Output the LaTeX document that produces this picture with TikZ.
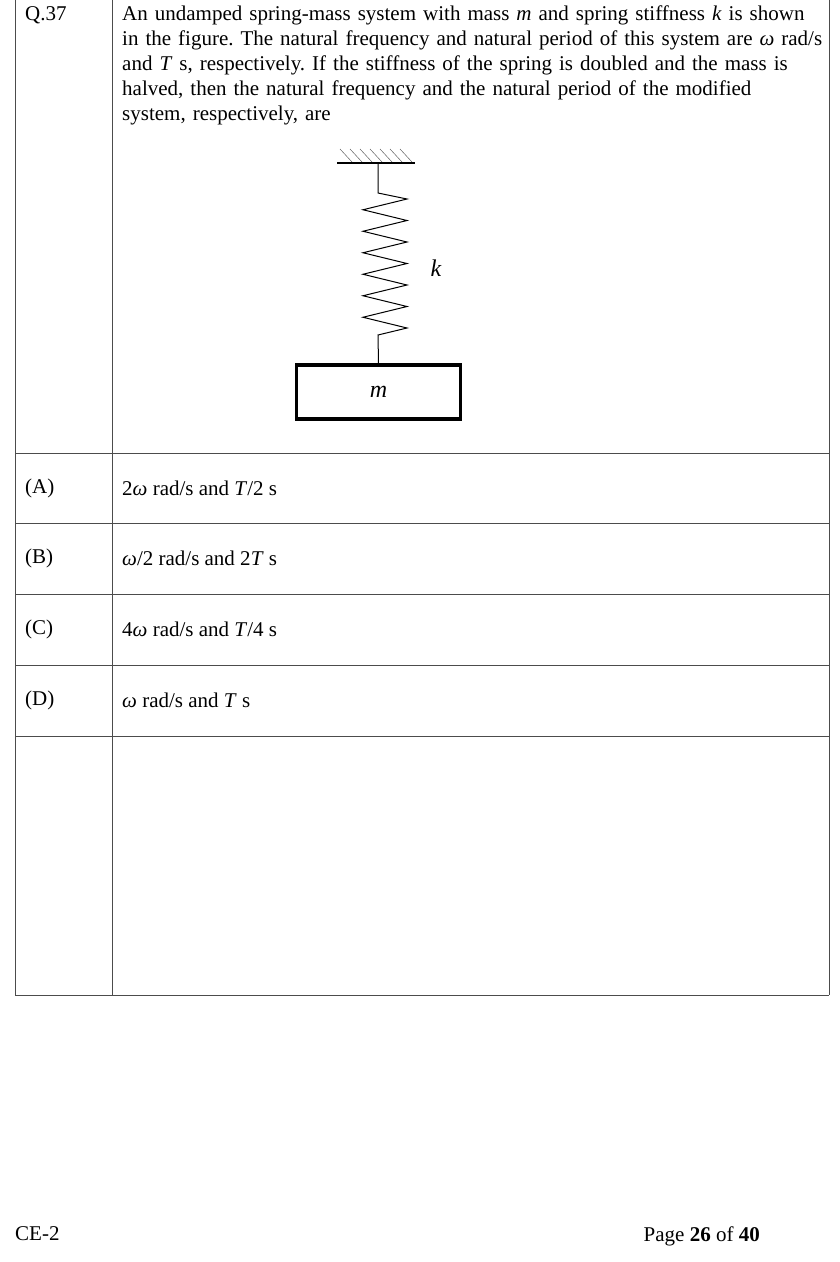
\documentclass[tikz,border=0pt]{standalone}
\usepackage{fontspec}
\setmainfont{Liberation Serif}
\frenchspacing
\usetikzlibrary{positioning,patterns}
\tikzset{grid/.style={line width=0.7pt, draw=black!70}, txt/.style={anchor=north west, inner sep=0pt, font=\fontsize{21}{25}\selectfont, align=left}}

\begin{document}
\begin{tikzpicture}[x=1pt,y=-1pt]
    \useasboundingbox (0,0) rectangle (839,1262);
    % table
    \draw[grid] (15,0) -- (15,995) (112,0) -- (112,995) (829,0) -- (829,995);
    \foreach \y in {453,523,594,665,736,995} \draw[grid] (15,\y) -- (829,\y);
    \node[txt] (q) at (25,6) {Q.37};
    \node[txt, text width=705pt] (stem) at (122,6) {An undamped spring-mass system with mass \textit{m} and spring stiffness \textit{k} is shown\\in the figure. The natural frequency and natural period of this system are \textit{ω} rad/s\\and \textit{T} s, respectively. If the stiffness of the spring is doubled and the mass is\\halved, then the natural frequency and the natural period of the modified\\system, respectively, are};
    % figure
    \coordinate (wallL) at (337,163);
    \coordinate (wallR) at (415,163);
    \draw[line width=1.4pt] (wallL) -- (wallR);
    \foreach \x in {340,350,...,400} \draw[line width=0.4pt, black!70] (\x,149) -- (\x+12,162);
    \coordinate (top) at (378,163);
    \coordinate (s0) at (378,193);
    \coordinate (s1) at (378,335);
    \node[draw, line width=3.5pt, minimum width=164pt, minimum height=54pt, inner sep=0pt] (mass) at (378.5,392) {\fontsize{24}{24}\selectfont\textit{m}};
    \draw[line width=1pt] (top) -- (s0) -- (407,199)
      \foreach \i in {1,...,6} { -- (363,199+\i*21.5-10.75) -- (407,199+\i*21.5) }
      -- (s1) -- (mass.north);
    \node[font=\fontsize{24}{24}\selectfont] (k) at (436,268) {\textit{k}};
    % options
    \node[txt] (la) at (25,479) {(A)};
    \node[txt] (oa) at (122,481) {2\textit{ω} rad/s and \textit{T}/2 s};
    \node[txt] (lb) at (25,549) {(B)};
    \node[txt] (ob) at (122,551) {\textit{ω}/2 rad/s and 2\textit{T} s};
    \node[txt] (lc) at (25,620) {(C)};
    \node[txt] (oc) at (122,622) {4\textit{ω} rad/s and \textit{T}/4 s};
    \node[txt] (ld) at (25,691) {(D)};
    \node[txt] (od) at (122,693) {\textit{ω} rad/s and \textit{T} s};
    % footer
    \node[txt] (ce) at (15,1226) {CE-2};
    \node[txt, anchor=north east] (pg) at (760,1226) {Page \textbf{26} of \textbf{40}};
\end{tikzpicture}
\end{document}
